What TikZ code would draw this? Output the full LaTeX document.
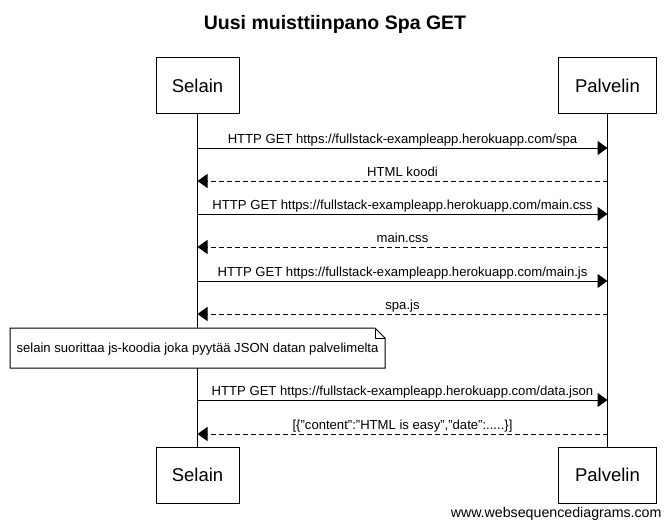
\documentclass[tikz,border=0pt]{standalone}
\usepackage{fontspec}
\setmainfont{Liberation Sans}
\usetikzlibrary{arrows.meta}
\begin{document}
\begin{tikzpicture}[x=1pt,y=-1pt,line width=1pt,
  actor/.style={draw,fill=white,minimum width=83pt,minimum height=56pt,inner sep=0pt,font=\fontsize{18.5}{20}\selectfont},
  actorP/.style={actor,minimum width=98pt},
  msg/.style={-{Triangle[length=10pt,width=14pt]}},
  reply/.style={msg,dash pattern=on 5pt off 3pt},
  lbl/.style={font=\fontsize{13.1}{15}\selectfont,inner sep=0pt,anchor=base},
  notebox/.style={draw,fill=white}]
\useasboundingbox[fill=white] (0,0) rectangle (670,528);
\node[font=\bfseries\fontsize{19.5}{22}\selectfont] (title) at (335,24) {Uusi muisttiinpano Spa GET};
\node[actor] (sTop) at (197.5,85.5) {Selain};
\node[actorP] (pTop) at (607.5,85.5) {Palvelin};
\node[actor] (sBot) at (197.5,475) {Selain};
\node[actorP] (pBot) at (607.5,475) {Palvelin};
\draw (sTop.south) -- (sBot.north);
\draw (pTop.south) -- (pBot.north);
% messages
\foreach \y/\t/\s/\n in {
  148/{HTTP GET https://fullstack-exampleapp.herokuapp.com/spa}/msg/1,
  214/{HTTP GET https://fullstack-exampleapp.herokuapp.com/main.css}/msg/3,
  281/{HTTP GET https://fullstack-exampleapp.herokuapp.com/main.js}/msg/5,
  400/{HTTP GET https://fullstack-exampleapp.herokuapp.com/data.json}/msg/8}{
  \coordinate (a\n) at (sTop.south |- 0,\y);
  \coordinate (b\n) at (pTop.south |- 0,\y);
  \draw[\s] (a\n) -- (b\n) node[lbl,midway,yshift=5pt] (l\n) {\t};
}
\foreach \y/\t/\n in {
  181/{HTML koodi}/2,
  247/{main.css}/4,
  314/{spa.js}/6,
  434/{[\{"content":"HTML is easy","date":.....\}]}/9}{
  \coordinate (a\n) at (pTop.south |- 0,\y);
  \coordinate (b\n) at (sTop.south |- 0,\y);
  \draw[reply] (a\n) -- (b\n) node[lbl,midway,yshift=5pt] (l\n) {\t};
}
% note
\draw[notebox] (10,328) -- (375,328) -- (385,338) -- (385,368) -- (10,368) -- cycle;
\draw[line width=0.8pt] (375,328) -- (375,338) -- (385,338);
\node[lbl,anchor=center] (note) at (197.5,349) {selain suorittaa js-koodia joka pyytää JSON datan palvelimelta};
\node[font=\fontsize{14.2}{16}\selectfont,anchor=east,inner sep=0pt] (wsd) at (662,514) {www.websequencediagrams.com};
\end{tikzpicture}
\end{document}
